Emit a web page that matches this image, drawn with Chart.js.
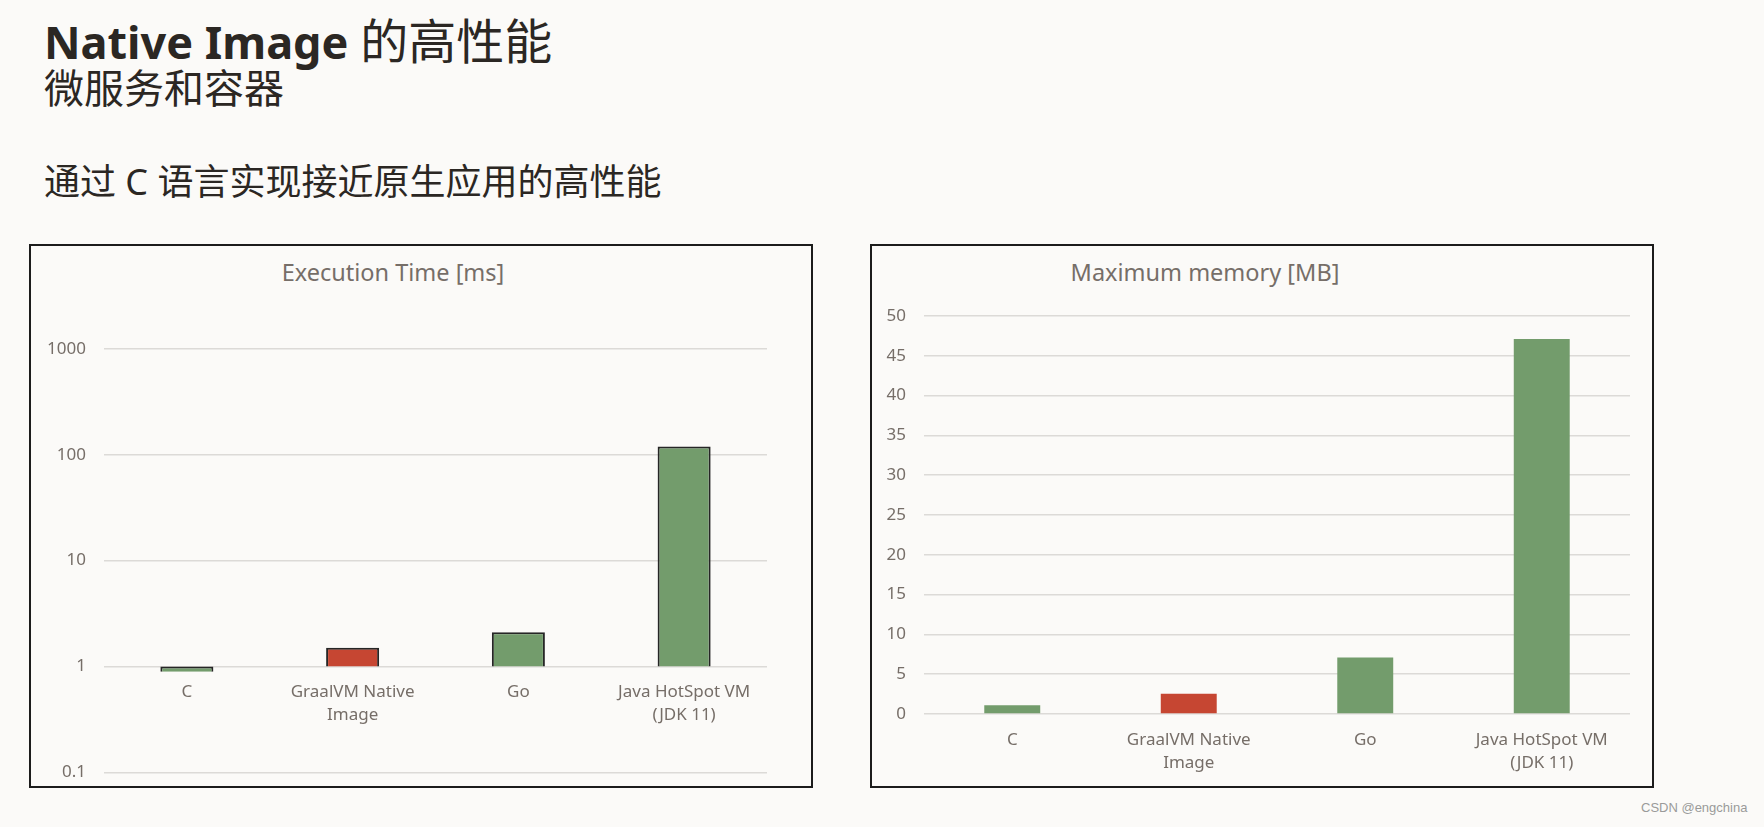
<!DOCTYPE html>
<html lang="zh">
  <head>
    <meta charset="UTF-8" />
    <title>Native Image 的高性能</title>
    <script src="https://cdn.jsdelivr.net/npm/chart.js"></script>
    <style>
      html, body {
        margin: 0;
        padding: 0;
        background: #fbfaf8;
        width: 1764px;
        height: 827px;
        overflow: hidden;
        font-family: "Noto Sans", "Noto Sans CJK SC", sans-serif;
      }
      .h1 {
        position: absolute;
        left: 44px;
        top: 3px;
        font-size: 45px;
        font-weight: 700;
        color: #2b2723;
        white-space: nowrap;
      }
      .h1 .cjk {
        font-size: 48px;
        font-weight: 400;
      }
      .h2 {
        position: absolute;
        left: 44px;
        top: 57px;
        font-size: 40px;
        color: #2b2723;
        font-family: "Noto Sans CJK SC", sans-serif;
      }
      .h3 {
        position: absolute;
        left: 44px;
        top: 153px;
        font-size: 36px;
        color: #2b2723;
        font-family: "Noto Sans", "Noto Sans CJK SC", sans-serif;
        white-space: nowrap;
      }
      .box {
        position: absolute;
        top: 244px;
        width: 784px;
        height: 544px;
        border: 2px solid #1c1c1c;
        box-sizing: border-box;
      }
      .ctitle {
        position: absolute;
        top: 10px;
        font-size: 23.5px;
        color: #766e68;
        white-space: nowrap;
        transform: translateX(-50%);
      }
      .wm {
        position: absolute;
        left: 1641px;
        top: 800px;
        font-size: 13px;
        color: #9a9a9a;
        font-family: "Liberation Sans", sans-serif;
      }
    </style>
  </head>
  <body>
    <div class="h1">Native Image <span class="cjk">的高性能</span></div>
    <div class="h2">微服务和容器</div>
    <div class="h3">通过 C 语言实现接近原生应用的高性能</div>

    <div class="box" style="left: 29px">
      <div class="ctitle" style="left: 362px">Execution Time [ms]</div>
      <div style="position: absolute; left: 0; top: 0; width: 780px; height: 556px">
        <canvas id="timeChart"></canvas>
      </div>
    </div>

    <div class="box" style="left: 870px">
      <div class="ctitle" style="left: 333px">Maximum memory [MB]</div>
      <div style="position: absolute; left: 0; top: 0; width: 780px; height: 540px">
        <canvas id="memChart"></canvas>
      </div>
    </div>

    <div class="wm">CSDN @engchina</div>

    <script>
      const categories = [
        "C",
        ["GraalVM Native", "Image"],
        "Go",
        ["Java HotSpot VM", "(JDK 11)"],
      ];
      const execTimeMs = [0.89, 1.5, 2.1, 120];
      const maxMemoryMb = [1.1, 2.55, 7.1, 47.1];
      const timeTicks = [0.1, 1, 10, 100, 1000];
      const memTicks = [0, 5, 10, 15, 20, 25, 30, 35, 40, 45, 50];

      const green = "#739c6c";
      const red = "#c64632";
      const barColors = [green, red, green, green];
      const textColor = "#766e68";
      const gridColor = "#dcdad7";
      const labelFont = { family: "'Noto Sans', sans-serif", size: 17, lineHeight: 1.38 };

      // log axis crosses at 1, so bars float from 1 to the value
      const timeBars = execTimeMs.map((v) => [1, v]);

      new Chart(document.getElementById("timeChart"), {
        type: "bar",
        data: {
          labels: categories,
          datasets: [
            {
              data: timeBars,
              backgroundColor: barColors,
              borderColor: "#262626",
              borderWidth: 2,
              barPercentage: 0.64,
              categoryPercentage: 0.5,
            },
          ],
        },
        options: {
          responsive: true,
          maintainAspectRatio: false,
          animation: false,
          layout: { padding: { top: 103, right: 44, bottom: 0, left: 0 } },
          plugins: { legend: { display: false }, tooltip: { enabled: false } },
          scales: {
            x: {
              position: { y: 1 },
              grid: { display: false, drawTicks: false },
              border: { display: false },
              ticks: { color: textColor, font: labelFont, padding: 14, maxRotation: 0 },
              afterFit: (s) => {
                s.height = 0;
              },
            },
            y: {
              type: "logarithmic",
              min: 0.1,
              max: 1000,
              grid: { color: gridColor, lineWidth: 1.5, drawTicks: false },
              border: { display: false },
              ticks: {
                color: textColor,
                font: labelFont,
                padding: 18,
                callback: (v) => String(v),
              },
              afterBuildTicks: (s) => {
                s.ticks = timeTicks.map((v) => ({ value: v }));
              },
              afterFit: (s) => {
                s.width = 73;
              },
            },
          },
        },
      });

      new Chart(document.getElementById("memChart"), {
        type: "bar",
        data: {
          labels: categories,
          datasets: [
            {
              data: maxMemoryMb,
              backgroundColor: barColors,
              borderWidth: 0,
              barPercentage: 0.634,
              categoryPercentage: 0.5,
            },
          ],
        },
        options: {
          responsive: true,
          maintainAspectRatio: false,
          animation: false,
          layout: { padding: { top: 70, right: 22, bottom: 0, left: 0 } },
          plugins: { legend: { display: false }, tooltip: { enabled: false } },
          scales: {
            x: {
              grid: { display: false, drawTicks: false },
              border: { display: false },
              ticks: { color: textColor, font: labelFont, padding: 14, maxRotation: 0 },
              afterFit: (s) => {
                s.height = 72;
              },
            },
            y: {
              min: 0,
              max: 50,
              grid: { color: gridColor, lineWidth: 1.5, drawTicks: false },
              border: { display: false },
              ticks: { color: textColor, font: labelFont, padding: 18 },
              afterBuildTicks: (s) => {
                s.ticks = memTicks.map((v) => ({ value: v }));
              },
              afterFit: (s) => {
                s.width = 52;
              },
            },
          },
        },
      });
    </script>
  </body>
</html>
